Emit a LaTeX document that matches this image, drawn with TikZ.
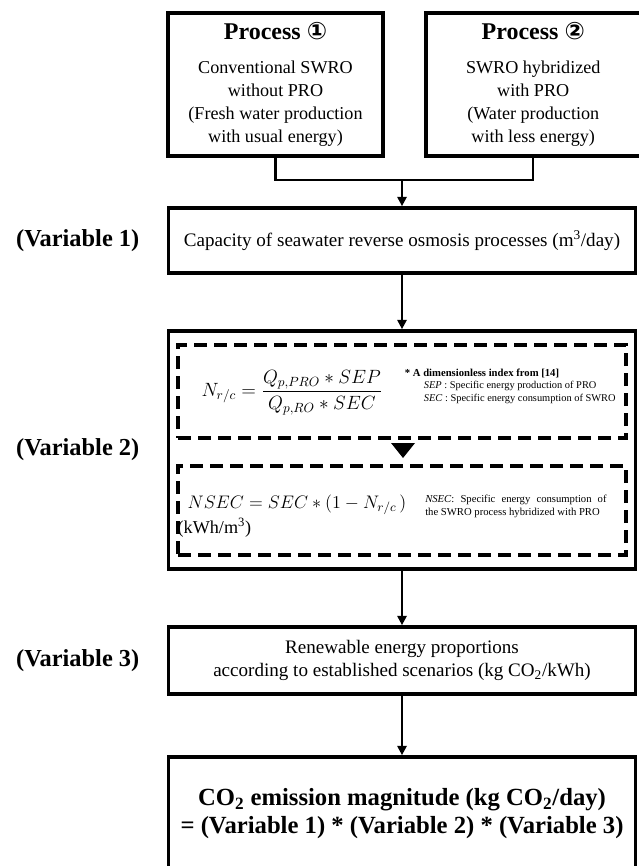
\documentclass[tikz,border=0pt]{standalone}
\usepackage{fix-cm}
\usepackage{amsmath}
\usepackage{fontspec}
\setmainfont{Liberation Serif}
\newfontfamily\circfont{DejaVu Sans}
\usetikzlibrary{positioning,arrows.meta,calc}
\definecolor{ink}{RGB}{0,0,0}
\tikzset{
  box/.style={draw=ink, line width=2.8pt, align=center, text=ink, inner sep=2pt,
    font=\fontsize{14.3}{17}\selectfont},
  pbox/.style={box, minimum width=161.25pt, minimum height=107.25pt,
    font=\fontsize{13.6}{17.2}\selectfont},
  dbox/.style={draw=ink, line width=2.4pt, dash pattern=on 10pt off 5pt, inner sep=0pt},
  lbl/.style={font=\fontsize{18.3}{21}\selectfont\bfseries, text=ink},
  eqn/.style={font=\fontsize{14.4}{18}\selectfont, text=ink, inner sep=0pt},
  note/.style={font=\fontsize{7.8}{9.4}\selectfont, text=ink, align=left, inner sep=0pt},
  flow/.style={-{Triangle[length=7pt,width=7pt]}, line width=1.6pt, draw=ink},
  merge/.style={line width=1.6pt, draw=ink},
}
\begin{document}
\begin{tikzpicture}[x=0.75pt,y=-0.75pt]
  \useasboundingbox (0,0) rectangle (638,866);
  % the two processes
  \node[pbox] (p1) at (275.5,84.5)
    {{\fontsize{18}{20}\selectfont\bfseries Process {\circfont ①}}\\[8pt]
     Conventional SWRO\\without PRO\\(Fresh water production\\with usual energy)};
  \node[pbox, right=29.25pt of p1] (p2)
    {{\fontsize{18}{20}\selectfont\bfseries Process {\circfont ②}}\\[8pt]
     SWRO hybridized\\with PRO\\(Water production\\with less energy)};
  \coordinate (jn) at (402,180);
  % variable 1
  \node[box, minimum width=350.25pt, minimum height=48.75pt] (v1) at (402,240.5)
    {Capacity of seawater reverse osmosis processes (m\textsuperscript{3}/day)};
  \node[lbl, left=17pt of v1] (l1) {(Variable 1)};
  % variable 2
  \node[box, minimum width=350.25pt, minimum height=178.5pt] (v2) at (402,450) {};
  \node[lbl, left=17pt of v2] (l2) {(Variable 2)};
  \node[dbox, minimum width=336pt, minimum height=69.75pt] (d1) at (402,391.5) {};
  \node[dbox, minimum width=336pt, minimum height=66.75pt] (d2) at (402,510.5) {};
  \coordinate (tri) at (403,450.5);
  \fill[ink] ($(tri)+(-12,-7.5)$) -- ++(24,0) -- ++(-12,15) -- cycle;
  \node[eqn] (f1) at ($(d1.center)+(-110,1)$)
    {$N_{r/c} = \dfrac{Q_{p,PRO} \ast SEP}{Q_{p,RO} \ast SEC}$};
  \node[note, font=\fontsize{8}{9.4}\selectfont\bfseries] (nh) at ($(d1.center)+(80,-18)$)
    {* A dimensionless index from [14]};
  \node[note, anchor=north west] (nd) at ($(nh.south west)+(19,3)$)
    {\textit{SEP} : Specific energy production of PRO\\
     \textit{SEC} : Specific energy consumption of SWRO};
  \node[eqn, font=\fontsize{13.6}{16}\selectfont, anchor=west] (f2) at ($(d2.west)+(11,-6)$)
    {$NSEC = SEC \ast (1 - N_{r/c}\,)$};
  \node[font=\fontsize{13.6}{15}\selectfont, text=ink, inner sep=0pt, anchor=west] (un)
    at ($(d2.west)+(1,17)$) {(kWh/m\textsuperscript{3})};
  \node[note, font=\fontsize{8}{9.6}\selectfont, align=justify, text width=136pt,
    anchor=west] (n2) at ($(d2.center)+(23,-4)$)
    {\textit{NSEC}: Specific energy consumption of\linebreak
     the SWRO process hybridized with PRO};
  % variable 3
  \node[box, minimum width=350.25pt, minimum height=50.25pt] (v3) at (402,660.5)
    {Renewable energy proportions\\according to established scenarios (kg CO\textsubscript{2}/kWh)};
  \node[lbl, left=17pt of v3] (l3) {(Variable 3)};
  % result
  \node[box, minimum width=350.25pt, minimum height=84.75pt,
    font=\fontsize{18.5}{21}\selectfont\bfseries] (co2) at (402,813.5)
    {CO\textsubscript{2} emission magnitude (kg CO\textsubscript{2}/day)\\
     = (Variable 1) * (Variable 2) * (Variable 3)};
  % connectors
  \draw[merge] (p1.south) |- (jn) -| (p2.south);
  \draw[flow] (jn) -- (v1);
  \draw[flow] (v1) -- (v2);
  \draw[flow] (v2) -- (v3);
  \draw[flow] (v3) -- (co2);
\end{tikzpicture}
\end{document}
